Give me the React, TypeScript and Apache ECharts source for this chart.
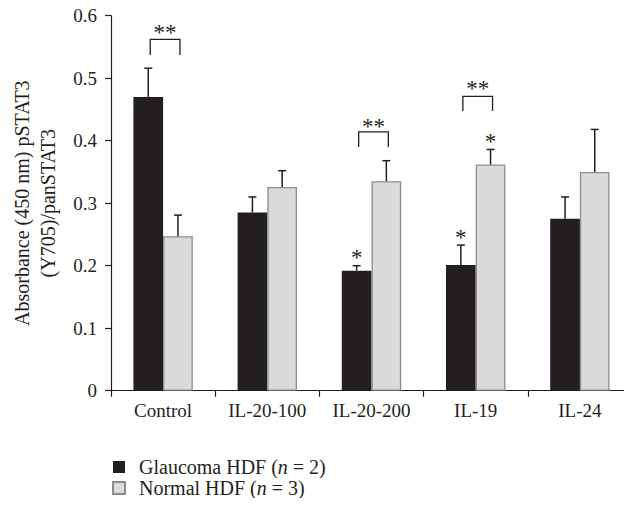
import React, { useEffect, useRef } from "react";
import * as echarts from "echarts";

const categories = ["Control", "IL-20-100", "IL-20-200", "IL-19", "IL-24"];
const glaucoma = [0.47, 0.285, 0.192, 0.201, 0.275];
const glaucomaErr = [0.046, 0.025, 0.008, 0.032, 0.035];
const normal = [0.247, 0.326, 0.335, 0.362, 0.35];
const normalErr = [0.034, 0.026, 0.033, 0.024, 0.068];
const yTicks = [0, 0.1, 0.2, 0.3, 0.4, 0.5, 0.6];

// significance brackets: category index, bracket top, leg bottom, label position
const bracketCats = [0, 2, 3];
const bracketTop = [0.562, 0.414, 0.471];
const bracketLeg = [0.537, 0.39, 0.4475];
const bracketStarY = [0.574, 0.425, 0.485];
// single stars: category, side (0 glaucoma, 1 normal), value
const starCats = [2, 3, 3];
const starSides = [0, 0, 1];
const starY = [0.2144, 0.2475, 0.4];

const GAP = 0.43;
const INK = "#231f20";
const SERIF = "'Liberation Serif', 'Times New Roman', serif";

export default function App() {
  const ref = useRef<HTMLDivElement>(null);
  useEffect(() => {
    if (!ref.current) return;
    const chart = echarts.init(ref.current, undefined, { renderer: "svg" });

    const errData: number[][] = [];
    categories.forEach((_, i) => {
      errData.push([i, glaucoma[i], glaucomaErr[i], 0]);
      errData.push([i, normal[i], normalErr[i], 1]);
    });
    const annData: any[] = [];
    bracketCats.forEach((c, k) => {
      annData.push({ value: [c, bracketTop[k], bracketLeg[k], bracketStarY[k], 0] });
    });
    starCats.forEach((c, k) => {
      annData.push({ value: [c, starY[k], starSides[k], 0, 1] });
    });

    const sideX = (api: any, cat: number, side: number) => {
      const band = api.size([1, 0])[0];
      const bw = (band * (1 - GAP)) / 2;
      const cx = api.coord([cat, 0])[0];
      return cx + (side === 0 ? -bw / 2 : bw / 2);
    };

    chart.setOption({
      animation: false,
      textStyle: { fontFamily: SERIF },
      grid: { left: 111, top: 15.7, width: 523, height: 375 },
      legend: {
        orient: "vertical",
        left: 112,
        top: 457,
        padding: 0,
        itemWidth: 12,
        itemHeight: 12,
        itemGap: 1,
        icon: "rect",
        data: ["Glaucoma HDF (n = 2)", "Normal HDF (n = 3)"],
        formatter: (name: string) =>
          name.startsWith("Glaucoma")
            ? "{a|Glaucoma HDF (}{i|n}{a| = 2)}"
            : "{a|Normal HDF (}{i|n}{a| = 3)}",
        textStyle: {
          padding: [0, 0, 0, 9],
          rich: {
            a: { fontSize: 20, fontFamily: SERIF, color: INK, lineHeight: 21 },
            i: { fontSize: 20, fontFamily: SERIF, color: INK, fontStyle: "italic", lineHeight: 21 },
          },
        },
      },
      xAxis: {
        type: "category",
        data: categories,
        axisLine: { lineStyle: { color: INK, width: 1.2 } },
        axisTick: { show: true, length: 6, lineStyle: { color: INK, width: 1.2 } },
        axisLabel: { fontSize: 19, color: INK, fontFamily: SERIF, margin: 10 },
      },
      yAxis: {
        type: "value",
        min: 0,
        max: 0.6,
        interval: 0.1,
        name: "Absorbance (450 nm) pSTAT3\n(Y705)/panSTAT3",
        nameLocation: "middle",
        nameRotate: 90,
        nameGap: 50,
        nameTextStyle: { fontSize: 20, color: INK, fontFamily: SERIF, lineHeight: 26 },
        splitLine: { show: false },
        axisLine: { show: true, lineStyle: { color: INK, width: 1.2 } },
        axisTick: { show: true, length: 6, lineStyle: { color: INK, width: 1.2 } },
        axisLabel: {
          fontSize: 19,
          color: INK,
          fontFamily: SERIF,
          margin: 14,
          formatter: (v: number) => {
            const t = yTicks.find((x) => Math.abs(x - v) < 1e-9);
            return t === 0 ? "0" : String(Number(v.toFixed(1)));
          },
        },
      },
      series: [
        {
          name: "Glaucoma HDF (n = 2)",
          type: "bar",
          data: glaucoma,
          barGap: "0%",
          barCategoryGap: GAP * 100 + "%",
          itemStyle: { color: INK },
        },
        {
          name: "Normal HDF (n = 3)",
          type: "bar",
          data: normal,
          barGap: "0%",
          barCategoryGap: GAP * 100 + "%",
          itemStyle: { color: "#d9dadc", borderColor: "#8c8c8c", borderWidth: 1.3 },
        },
        {
          type: "custom",
          z: 5,
          data: errData,
          renderItem: (params: any, api: any) => {
            const cat = api.value(0);
            const v = api.value(1);
            const e = api.value(2);
            const side = api.value(3);
            const x = sideX(api, cat, side);
            const y0 = api.coord([cat, v])[1];
            const y1 = api.coord([cat, v + e])[1];
            const st = { stroke: INK, lineWidth: 1.5 };
            return {
              type: "group",
              children: [
                { type: "line", shape: { x1: x, y1: y0, x2: x, y2: y1 }, style: st },
                { type: "line", shape: { x1: x - 4, y1: y1, x2: x + 4, y2: y1 }, style: st },
              ],
            };
          },
        },
        {
          type: "custom",
          z: 6,
          data: annData,
          renderItem: (params: any, api: any) => {
            const cat = api.value(0);
            const kind = api.value(4);
            const st = { stroke: INK, lineWidth: 1.3, fill: "none" };
            const starStyle = {
              text: "",
              fontSize: 23,
              fontFamily: SERIF,
              fill: INK,
              align: "center",
              verticalAlign: "middle",
            };
            if (kind === 0) {
              const xl = sideX(api, cat, 0) + 2;
              const xr = sideX(api, cat, 1) + 2;
              const yt = api.coord([cat, api.value(1)])[1];
              const yb = api.coord([cat, api.value(2)])[1];
              const ys = api.coord([cat, api.value(3)])[1];
              return {
                type: "group",
                children: [
                  { type: "polyline", shape: { points: [[xl, yb], [xl, yt], [xr, yt], [xr, yb]] }, style: st },
                  { type: "text", x: (xl + xr) / 2, y: ys + 1, style: { ...starStyle, text: "**" } },
                ],
              };
            }
            const side = api.value(2);
            const x = sideX(api, cat, side);
            const ys = api.coord([cat, api.value(1)])[1];
            return { type: "text", x, y: ys + 1, style: { ...starStyle, text: "*" } };
          },
        },
      ],
    });
    return () => chart.dispose();
  }, []);
  return <div ref={ref} style={{ width: 632, height: 506, margin: -8 }} />;
}
